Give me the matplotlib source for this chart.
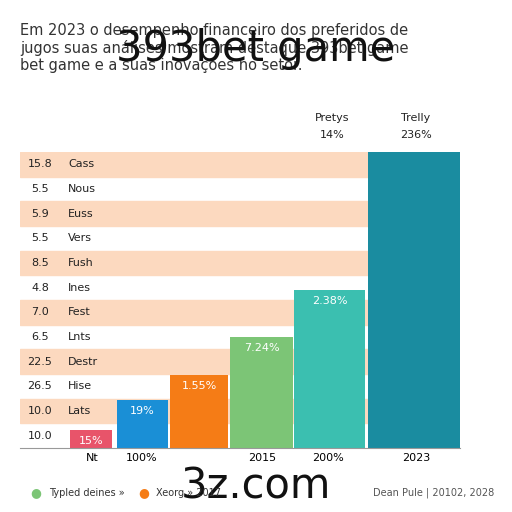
import matplotlib.pyplot as plt

row_values = ['15.8', '5.5', '5.9', '5.5', '8.5', '4.8', '7.0', '6.5', '22.5', '26.5', '10.0', '10.0']
row_names = ['Cass', 'Nous', 'Euss', 'Vers', 'Fush', 'Ines', 'Fest', 'Lnts', 'Destr', 'Hise', 'Lats', '']
bar_labels = ['Nt', '100%', '2015', '200%', '2023']
bar_heights = [0.73, 1.94, 2.96, 4.5, 6.4, 12.0]
bar_texts = ['15%', '19%', '1.55%', '7.24%', '2.38%', '']
bar_colors = ['#e8546a', '#1a8fd6', '#f57c16', '#7cc576', '#3bbfb0', '#1a8ca0']
bar_lefts = [50, 97, 150, 210, 274, 348]
bar_widths = [42, 51, 58, 63, 71, 92]
tick_pos = [72, 122, 242, 308, 396]

fig = plt.figure(figsize=(5.12, 5.12), dpi=100)
ax = fig.add_axes([20/512, 1-448/512, 440/512, 296/512])
n = len(row_names)
for i in range(n):
    if i % 2 == 0:
        ax.axhspan(n-1-i, n-i, color='#fcd9bf', zorder=0)
    ax.text(20, n-i-0.5, row_values[i], va='center', ha='center', fontsize=8, color='#222')
    ax.text(48, n-i-0.5, row_names[i], va='center', fontsize=8, color='#222')
ax.bar(bar_lefts, bar_heights, width=bar_widths, align='edge', color=bar_colors, zorder=2)
for x, w, h, t in zip(bar_lefts, bar_widths, bar_heights, bar_texts):
    ax.text(x + w/2, h-0.45, t, ha='center', va='center', color='white', fontsize=8, zorder=3)
ax.text(312, 12.5, 'Pretys\n14%', ha='center', va='bottom', fontsize=8, color='#222', linespacing=1.8)
ax.text(396, 12.5, 'Trelly\n236%', ha='center', va='bottom', fontsize=8, color='#222', linespacing=1.8)
ax.set_xlim(0, 440)
ax.set_ylim(0, n)
ax.set_xticks(tick_pos)
ax.set_xticklabels(bar_labels, fontsize=8)
ax.tick_params(length=0)
ax.set_yticks([])
for s in ['top', 'right', 'left']:
    ax.spines[s].set_visible(False)
ax.spines['bottom'].set_color('#999')

fig.text(0.04, 0.955, 'Em 2023 o desempenho financeiro dos preferidos de\njugos suas análises mostram destaque 393bet game\nbet game e a suas inovações no setor.',
         fontsize=10.5, va='top', color='#333', linespacing=1.15)
fig.text(0.5, 0.905, '393bet game', fontsize=30, ha='center', va='center', color='#111')
fig.text(0.5, 0.05, '3z.com', fontsize=30, ha='center', va='center', color='#111')
fig.text(0.06, 0.037, '●', color='#7cc576', fontsize=9, va='center')
fig.text(0.095, 0.037, 'Typled deines »', fontsize=7, va='center', color='#333')
fig.text(0.27, 0.037, '●', color='#f57c16', fontsize=9, va='center')
fig.text(0.305, 0.037, 'Xeorg » 2017', fontsize=7, va='center', color='#333')
fig.text(0.965, 0.037, 'Dean Pule | 20102, 2028', fontsize=7, va='center', ha='right', color='#555')
fig.savefig('out.png', dpi=100)
